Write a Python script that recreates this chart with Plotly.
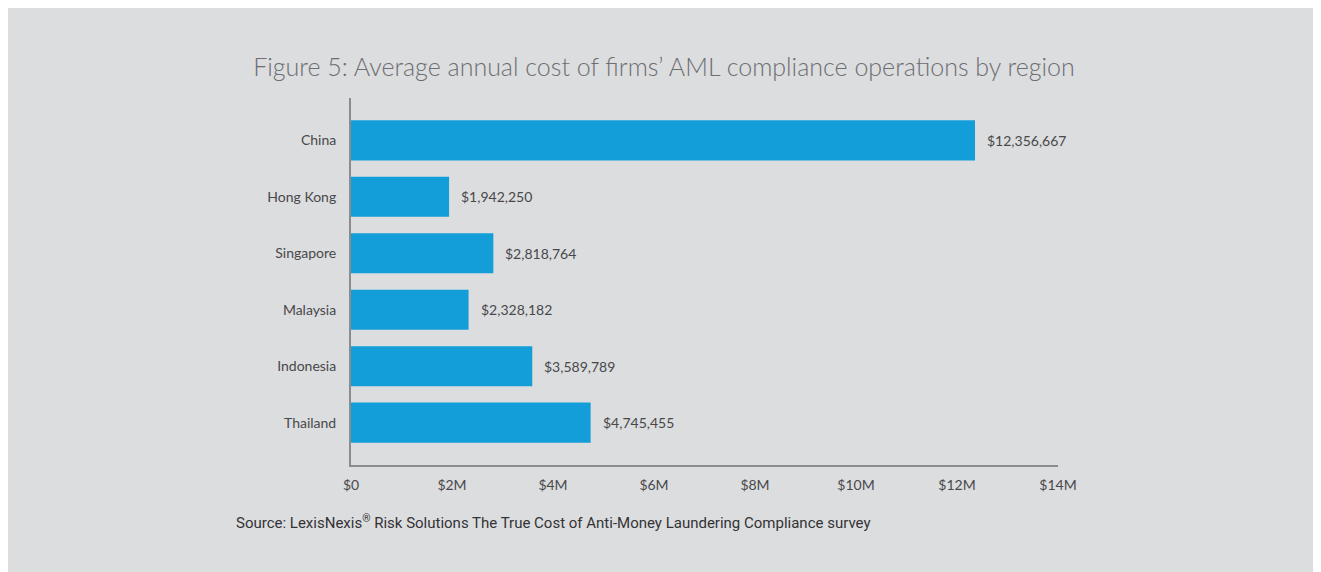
import plotly.graph_objects as go

regions = ["China", "Hong Kong", "Singapore", "Malaysia", "Indonesia", "Thailand"]
costs = [12356667, 1942250, 2818764, 2328182, 3589789, 4745455]
tick_vals = [0, 2e6, 4e6, 6e6, 8e6, 10e6, 12e6, 14e6]
tick_text = ["$0", "$2M", "$4M", "$6M", "$8M", "$10M", "$12M", "$14M"]
value_labels = ["${:,}".format(v) for v in costs]

OFF = 8  # page offset of the figure inside the browser window
W, H = 1321 + OFF + 8, 572 + OFF
L, R, T, B = 351 - OFF, W - (1058 - OFF), 98 - OFF, H - (465 - OFF)
pw, ph = W - L - R, H - T - B

fig = go.Figure()
fig.add_trace(go.Bar(
    x=costs, y=regions, orientation="h",
    marker=dict(color="#139eda", line=dict(width=0)),
    width=0.71, hoverinfo="skip",
))

for r, v, t in zip(regions, costs, value_labels):
    fig.add_annotation(x=v, y=r, text=t, showarrow=False, xanchor="left",
                       xshift=10, font=dict(family="Lato", size=14, color="#48484a"))

fig.add_annotation(xref="paper", yref="paper", x=(234 - OFF - L) / pw,
                   y=(H - (522 - OFF) - B) / ph,
                   xanchor="left", yanchor="middle", showarrow=False,
                   text="Source: LexisNexis<sup>®</sup> Risk Solutions The True Cost of Anti-Money Laundering Compliance survey",
                   font=dict(family="Roboto", size=15, color="#333335"))

fig.update_layout(
    autosize=False,
    width=W, height=H,
    margin=dict(l=L, r=R, t=T, b=B, pad=0),
    paper_bgcolor="#dcdddf", plot_bgcolor="rgba(0,0,0,0)",
    showlegend=False,
    title=dict(text="Figure 5: Average annual cost of firms’ AML compliance operations by region",
               x=(664 - OFF) / W, xanchor="center", y=1 - (67 - OFF) / H, yanchor="middle",
               font=dict(family="Lato", size=25, color="#6d6e71", weight=300)),
    xaxis=dict(range=[0, 14e6], tickvals=tick_vals, ticktext=tick_text,
               showgrid=False, zeroline=False, showline=True, linecolor="#8c8c8e",
               linewidth=2, ticks="", ticklabelstandoff=6,
               tickfont=dict(family="Lato", size=14, color="#48484a")),
    yaxis=dict(categoryorder="array", categoryarray=regions, autorange=False,
               range=[5.75, -0.75], showgrid=False, zeroline=False,
               showline=True, linecolor="#8c8c8e", linewidth=2, ticks="",
               ticklabelstandoff=10,
               tickfont=dict(family="Lato", size=14, color="#48484a")),
)

fig.write_html("out.html")
